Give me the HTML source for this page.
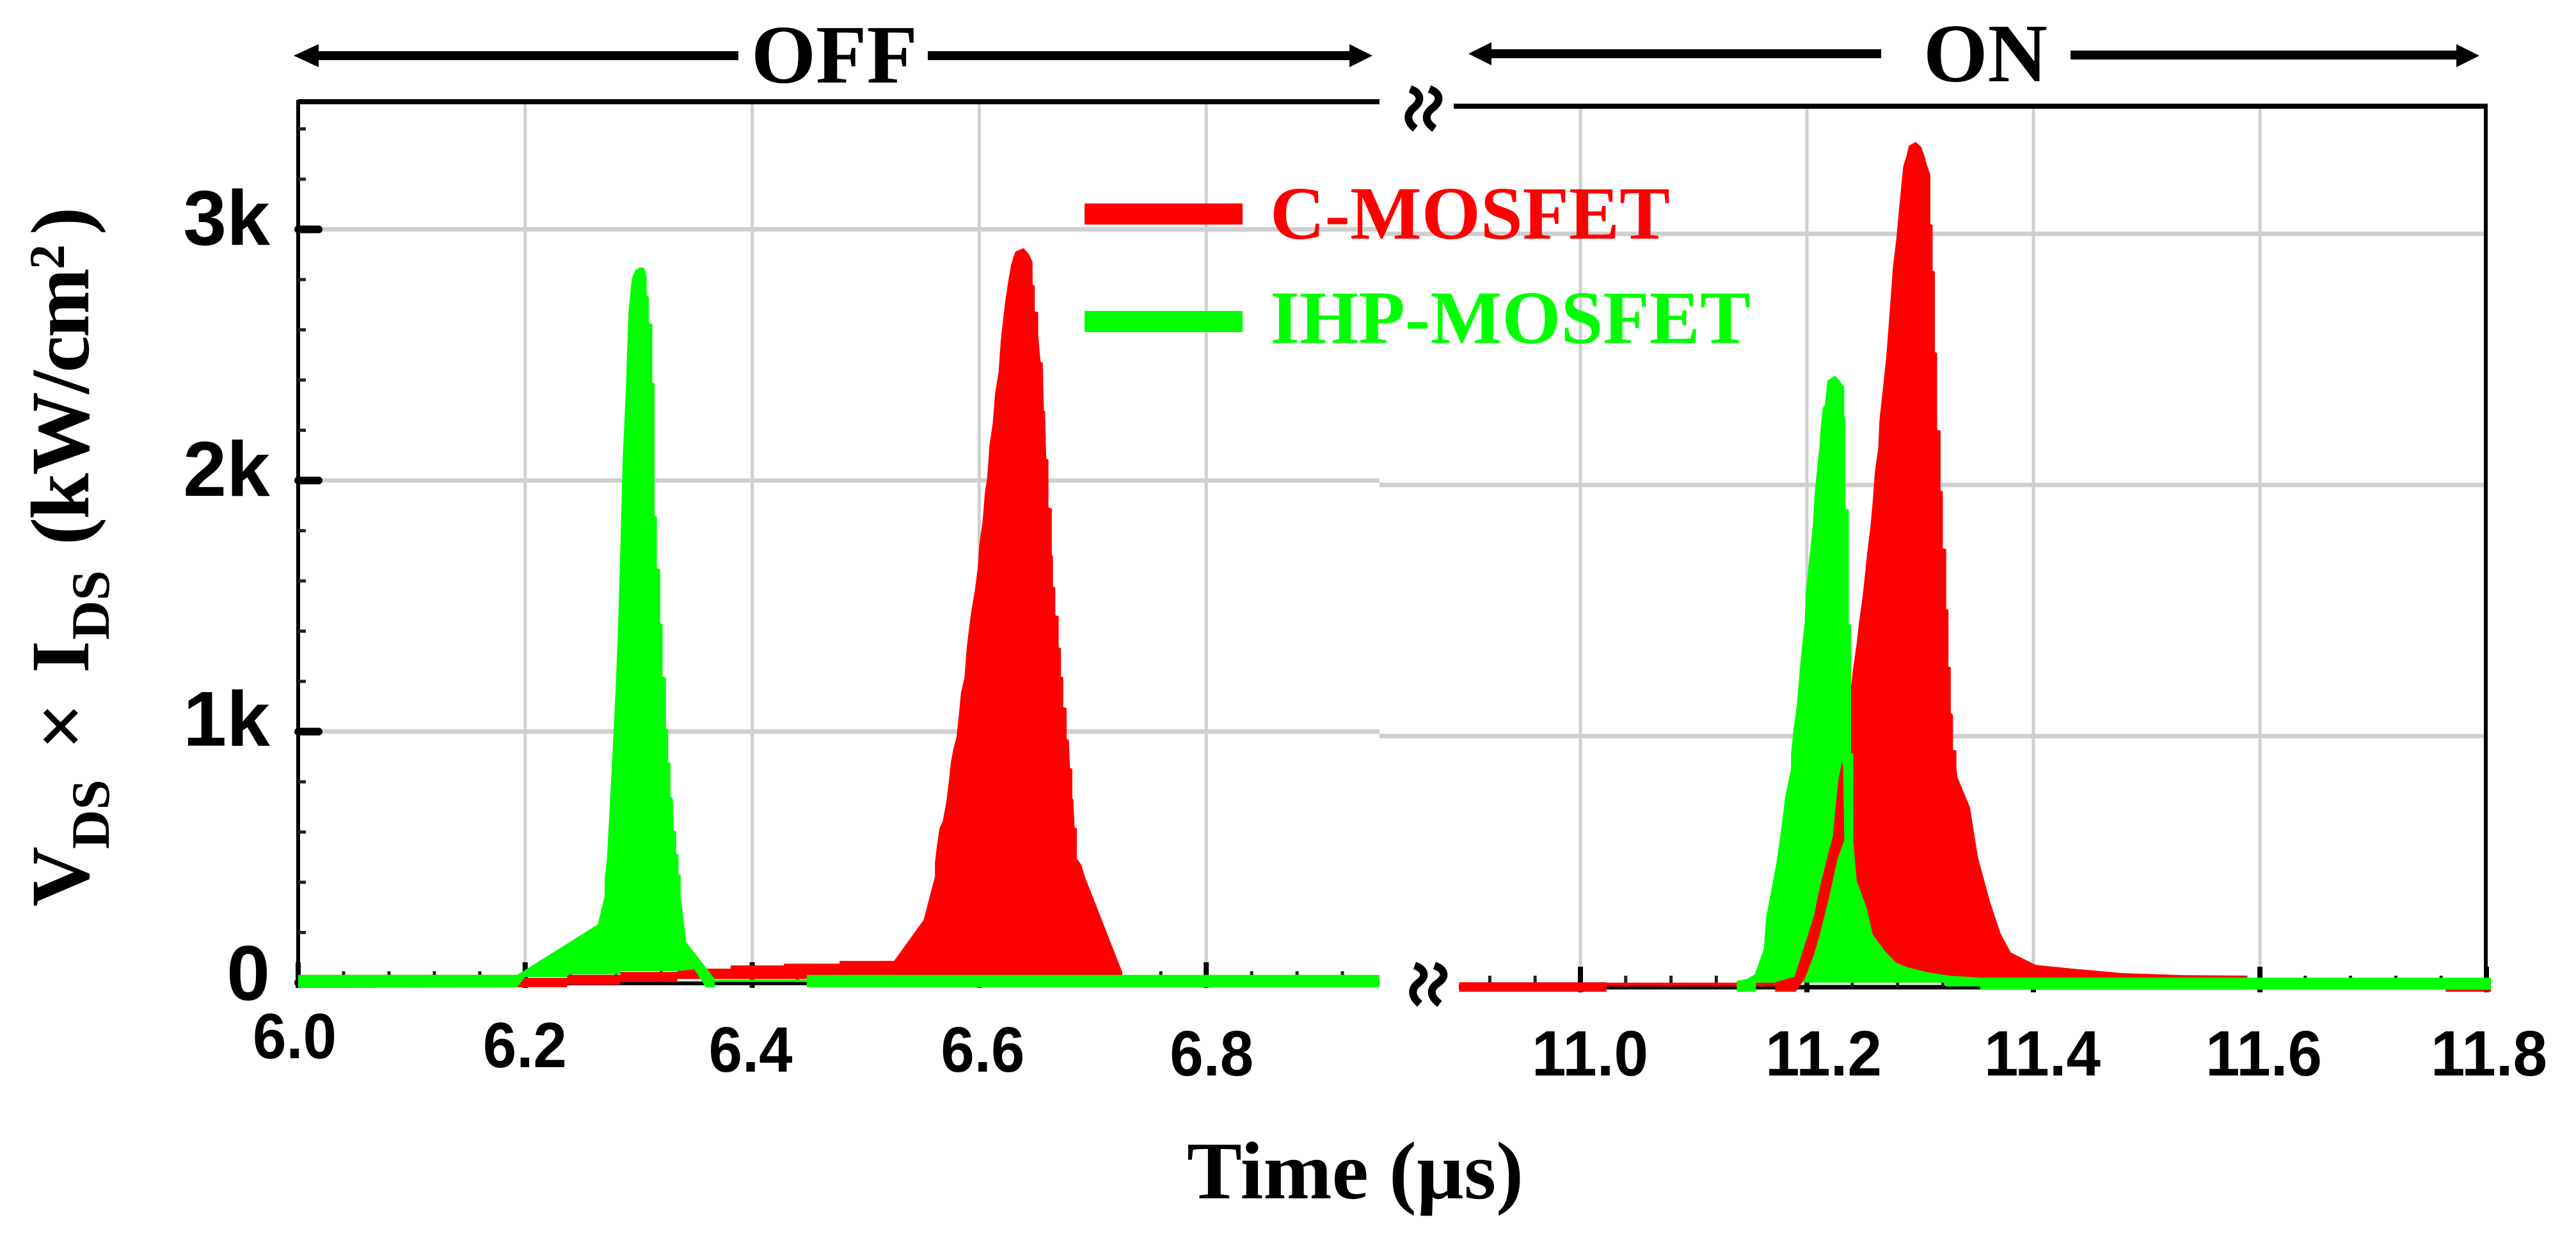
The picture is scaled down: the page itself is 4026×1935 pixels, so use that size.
<!DOCTYPE html>
<html lang="en">
<head>
<meta charset="utf-8">
<title>VDS x IDS versus time</title>
<style>
html,body{margin:0;padding:0;background:#fff;width:4026px;height:1935px;overflow:hidden}
svg{display:block}
.serif{font-family:"Liberation Serif","DejaVu Serif",serif;font-weight:bold}
.sans{font-family:"Liberation Sans","DejaVu Sans",sans-serif;font-weight:bold}
</style>
</head>
<body>
<svg id="chart" xmlns="http://www.w3.org/2000/svg" width="4026" height="1935" viewBox="0 0 4026 1935">
  <rect x="0" y="0" width="4026" height="1935" fill="#fff"/>
  <g id="grid"></g>
  <g id="axes"></g>
  <g id="series"></g>

  <g fill="#000">
    <rect x="490" y="80" width="664" height="14"/>
    <polygon points="459,87 498,69 498,105"/>
    <rect x="1450" y="80" width="665" height="14"/>
    <polygon points="2145,87 2109,69 2109,105"/>
  </g>
  <text class="serif" x="1174" y="129" font-size="130" textLength="260" lengthAdjust="spacingAndGlyphs">OFF</text>
  <g fill="#000">
    <rect x="2325" y="77" width="615" height="14"/>
    <polygon points="2295,84 2331,66 2331,102"/>
    <rect x="3236" y="79" width="610" height="14"/>
    <polygon points="3875,87 3839,69 3839,105"/>
  </g>
  <text class="serif" x="3006" y="127" font-size="130" textLength="194" lengthAdjust="spacingAndGlyphs">ON</text>

  <g fill="none" stroke="#000" stroke-width="12">
    <path d="M2204,139 C2222,146 2222,158 2210,168 C2198,178 2198,190 2212,201"/>
    <path d="M2234,139 C2252,146 2252,158 2240,168 C2226,178 2226,190 2242,201"/>
  </g>
  <g fill="none" stroke="#000" stroke-width="12">
    <path d="M2211,1509 C2229,1516 2229,1527 2217,1536 C2205,1545 2205,1557 2219,1569"/>
    <path d="M2242,1509 C2260,1516 2260,1527 2248,1536 C2234,1545 2234,1557 2250,1569"/>
  </g>

  <rect x="1695" y="318" width="247" height="33" fill="#ff0000"/>
  <text class="serif" x="1985" y="373" font-size="118" fill="#ff0000" textLength="625" lengthAdjust="spacingAndGlyphs">C-MOSFET</text>
  <rect x="1695" y="486" width="247" height="33" fill="#00ff00"/>
  <text class="serif" x="1985" y="536" font-size="118" fill="#00ff00" textLength="751" lengthAdjust="spacingAndGlyphs">IHP-MOSFET</text>

  <text class="serif" transform="translate(138,0) rotate(-90)" font-size="130"><tspan x="-1417" y="0">V</tspan><tspan x="-1327" y="32" font-size="85">DS</tspan><tspan x="-1172" y="0">×</tspan><tspan x="-1052" y="0">I</tspan><tspan x="-1000" y="32" font-size="85">DS</tspan><tspan x="-852" y="0" letter-spacing="-3">(kW/cm</tspan><tspan x="-421" y="-38" font-size="78">2</tspan><tspan x="-367" y="0">)</tspan></text>
  <text class="serif" x="1855" y="1873" font-size="128" textLength="526" lengthAdjust="spacingAndGlyphs">Time (µs)</text>

  <g id="labels"></g>
</svg>
<script>
// ---- chart data (time in µs, power in W/cm²) ----
const yMajorTicks = [0, 1000, 2000, 3000];
const yMajorLabels = ["0", "1k", "2k", "3k"];
const yMinorTicks = [200, 400, 600, 800, 1200, 1400, 1600, 1800, 2200, 2400, 2600, 2800, 3200, 3400];
const gridPower = [1000, 2000, 3000];

const offMajorTicks = [6.0, 6.2, 6.4, 6.6, 6.8];
const offTickLabels = ["6.0", "6.2", "6.4", "6.6", "6.8"];
const offMinorTicks = [6.04, 6.08, 6.12, 6.16, 6.24, 6.28, 6.32, 6.36, 6.44, 6.48, 6.52, 6.56, 6.64, 6.68, 6.72, 6.76, 6.84, 6.88, 6.92];
const onMajorTicks = [11.0, 11.2, 11.4, 11.6, 11.8];
const onTickLabels = ["11.0", "11.2", "11.4", "11.6", "11.8"];
const onMinorTicks = [10.92, 10.96, 11.04, 11.08, 11.12, 11.16, 11.24, 11.28, 11.32, 11.36, 11.44, 11.48, 11.52, 11.56, 11.64, 11.68, 11.72, 11.76];

// C-MOSFET, turn-off waveform envelope
const redOffTime = [6.0,6.197,6.197,6.237,6.237,6.284,6.284,6.334,6.334,6.381,6.381,6.428,6.428,6.477,6.477,6.525,6.551,6.561,6.561,6.563,6.565,6.568,6.571,6.573,6.575,6.577,6.580,6.582,6.584,6.587,6.589,6.591,6.593,6.596,6.599,6.600,6.603,6.605,6.607,6.609,6.612,6.614,6.617,6.619,6.621,6.623,6.626,6.628,6.630,6.632,6.639,6.644,6.647,6.647,6.649,6.649,6.652,6.652,6.654,6.656,6.657,6.658,6.659,6.661,6.661,6.664,6.664,6.665,6.665,6.667,6.667,6.670,6.670,6.672,6.672,6.674,6.674,6.677,6.677,6.679,6.680,6.682,6.682,6.683,6.684,6.686,6.686,6.690,6.693,6.726,6.726,6.334,6.334,6.284,6.284,6.237,6.237,6.197,6.0];
const redOffPower = [31,31,20,20,31,31,43,43,56,56,69,69,76,76,87,87,250,423,479,555,614,645,721,792,877,927,978,1065,1157,1213,1335,1409,1480,1557,1664,1743,1837,1952,2010,2138,2232,2347,2431,2558,2640,2716,2805,2856,2889,2912,2925,2900,2869,2780,2775,2673,2670,2581,2474,2469,2278,2275,2087,2084,1893,1888,1705,1697,1577,1575,1463,1460,1335,1333,1220,1218,1098,1093,971,966,856,851,734,729,619,614,494,469,423,43,15,15,3,3,-8,-8,-18,-18,-20];

// IHP-MOSFET, turn-off waveform envelope
const greenOffTime = [6.0,6.193,6.264,6.270,6.270,6.272,6.275,6.277,6.280,6.282,6.284,6.286,6.289,6.291,6.294,6.297,6.301,6.305,6.307,6.307,6.309,6.309,6.312,6.312,6.314,6.314,6.316,6.316,6.319,6.319,6.321,6.321,6.324,6.324,6.326,6.326,6.328,6.328,6.330,6.331,6.333,6.333,6.335,6.335,6.337,6.337,6.342,6.367,6.367,6.359,6.349,6.334,6.284,6.284,6.237,6.237,6.2,6.193,6.0];
const greenOffPower = [31,31,232,347,415,489,749,920,1200,1440,1758,2100,2398,2673,2805,2838,2849,2846,2813,2737,2731,2627,2624,2390,2387,1860,1855,1651,1646,1432,1427,1220,1215,1012,1009,879,874,741,736,606,604,515,510,433,428,347,161,15,-18,-18,53,46,46,33,33,23,23,-18,-18];
const greenOffTailTime = [6.367,6.448,6.448,6.9525,6.9525,6.448,6.448,6.367];
const greenOffTailPower = [13,13,31,31,-18,-18,3,3];

// C-MOSFET, turn-on waveform
const redOnBaseTime = [10.893,11.023,11.023,11.172,11.172,11.023,11.023,10.893];
const redOnBasePower = [20,20,18,18,3,3,-18,-18];
const redOnMainTime = [11.239,11.239,11.241,11.244,11.246,11.249,11.251,11.253,11.256,11.258,11.260,11.263,11.264,11.267,11.270,11.272,11.274,11.276,11.279,11.281,11.283,11.285,11.288,11.290,11.296,11.301,11.304,11.306,11.309,11.309,11.311,11.311,11.313,11.313,11.315,11.315,11.318,11.318,11.320,11.320,11.323,11.323,11.325,11.325,11.327,11.327,11.329,11.329,11.332,11.332,11.333,11.344,11.351,11.362,11.371,11.380,11.402,11.435,11.479,11.534,11.589,11.589];
const redOnMainPower = [18,1200,1277,1371,1452,1549,1631,1722,1829,1931,2051,2148,2255,2382,2507,2624,2747,2869,2981,3083,3175,3269,3312,3351,3366,3346,3307,3274,3236,3040,3035,2854,2849,2530,2525,2219,2217,1977,1975,1748,1745,1506,1503,1277,1274,1091,1085,945,943,874,836,716,517,336,214,138,89,74,56,48,46,18];
const redOnRiseTime = [11.172,11.172,11.189,11.198,11.206,11.211,11.219,11.223,11.225,11.228,11.231,11.232,11.233,11.227,11.219,11.211,11.206,11.198,11.190];
const redOnRisePower = [-18,20,41,168,280,390,535,601,703,831,899,874,586,510,347,204,127,33,-18];
const redOnEndTime = [11.764,11.804,11.804,11.764];
const redOnEndPower = [3,3,-18,-18];

// IHP-MOSFET, turn-on waveform
const greenOnTime = [11.138,11.138,11.147,11.154,11.162,11.164,11.169,11.173,11.177,11.181,11.185,11.186,11.186,11.188,11.191,11.193,11.195,11.198,11.199,11.202,11.205,11.207,11.210,11.211,11.212,11.214,11.216,11.218,11.225,11.230,11.233,11.233,11.234,11.234,11.237,11.237,11.239,11.239,11.241,11.241,11.244,11.253,11.258,11.269,11.279,11.289,11.307,11.325,11.355,11.804,11.804,11.353,11.353,11.322,11.322,11.155,11.155,11.138];
const greenOnPower = [-18,25,33,51,153,280,397,492,619,764,848,874,930,1022,1121,1226,1328,1452,1567,1702,1829,1975,2110,2148,2217,2308,2319,2415,2436,2408,2390,2268,2263,1906,1901,1447,1442,933,930,576,423,313,211,143,97,79,59,46,38,38,-10,-10,3,3,18,18,-18,-18];

// ---- axis functions ----
function xOff(t){ return 466 + (t - 6.0) * 1774; }
function yOff(v){ return 1536 - v * 0.3925; }
function xOn(t){ return 2470 + (t - 11.0) * 1770; }
function yOn(v){ return 1543 - v * 0.3925; }

const SVGNS = "http://www.w3.org/2000/svg";
function mk(parent, tag, attrs){
  const el = document.createElementNS(SVGNS, tag);
  for (const k in attrs) el.setAttribute(k, attrs[k]);
  parent.appendChild(el);
  return el;
}
function outline(times, powers, xf, yf){
  return times.map(function(t, i){ return xf(t).toFixed(1) + "," + yf(powers[i]).toFixed(1); }).join(" ");
}
const gGrid = document.getElementById("grid");
const gAxes = document.getElementById("axes");
const gSeries = document.getElementById("series");
const gLabels = document.getElementById("labels");

// grid
gridPower.forEach(function(v){
  const a = mk(gGrid, "line", {x1:466, x2:2156, y1:yOff(v), y2:yOff(v), stroke:"#cfcfcf", "stroke-width":7});
  
  
  const b = mk(gGrid, "line", {x1:2156, x2:3885, y1:yOn(v), y2:yOn(v), stroke:"#cfcfcf", "stroke-width":7});
  
  
});
offMajorTicks.slice(1).forEach(function(t){
  const a = mk(gGrid, "line", {x1:xOff(t), x2:xOff(t), y1:159, y2:yOff(0), stroke:"#cfcfcf", "stroke-width":5});
  
  
});
onMajorTicks.slice(0, 4).forEach(function(t){
  const a = mk(gGrid, "line", {x1:xOn(t), x2:xOn(t), y1:166, y2:yOn(0), stroke:"#cfcfcf", "stroke-width":5});
  
  
});

// axis frame
function axisLine(name, x1, y1, x2, y2, w){
  const l = mk(gAxes, "line", {x1:x1, y1:y1, x2:x2, y2:y2, stroke:"#000", "stroke-width":w});
  
  
}
axisLine("left-axis-line", 466, 156, 466, 1540, 6);
axisLine("top-axis-line-off", 466, 159, 2156, 159, 8);
axisLine("top-axis-line-on", 2272, 166, 3888, 166, 8);
axisLine("right-axis-line", 3885, 163, 3885, 1547, 6);
axisLine("bottom-axis-line-off", 466, 1537, 2156, 1537, 6);
axisLine("bottom-axis-line-on", 2280, 1543, 3885, 1543, 7);

// y ticks
yMajorTicks.forEach(function(v, i){
  const tick = mk(gAxes, "line", {x1:466, x2:498, y1:yOff(v), y2:yOff(v), stroke:"#000", "stroke-width":12, "stroke-linecap":"round"});
  
  
  const lab = mk(gLabels, "text", {x:422, y:yOff(v) + (v === 0 ? 27 : (v === 1000 ? 22 : 24)), "text-anchor":"end", "font-size":122, "class":"sans"});
  lab.textContent = yMajorLabels[i];
  
  
});
yMinorTicks.forEach(function(v){
  const tick = mk(gAxes, "line", {x1:466, x2:478, y1:yOff(v), y2:yOff(v), stroke:"#222", "stroke-width":5});
  
  
});

// x ticks
offMajorTicks.forEach(function(t, i){
  const tick = mk(gAxes, "line", {x1:xOff(t), x2:xOff(t), y1:yOff(0) - 32, y2:yOff(0) + 8, stroke:"#000", "stroke-width":8});
  
  
  const base = [1654, 1668, 1675, 1675, 1681][i];
  const lab = mk(gLabels, "text", {x:xOff(t) - 71 + (i === 1 ? 5 : 0) + (i === 2 ? 3 : 0) + (i === 3 ? 11 : 0) + (i === 4 ? 14 : 0), y:base, "font-size":100, "class":"sans", textLength:131, lengthAdjust:"spacingAndGlyphs"});
  lab.textContent = offTickLabels[i];
  
  
});
offMinorTicks.forEach(function(t){
  const tick = mk(gAxes, "line", {x1:xOff(t), x2:xOff(t), y1:yOff(0) - 18, y2:yOff(0), stroke:"#222", "stroke-width":5});
  
  
});
onMajorTicks.forEach(function(t, i){
  const tick = mk(gAxes, "line", {x1:xOn(t), x2:xOn(t), y1:yOn(0) - 32, y2:yOn(0) + 8, stroke:"#000", "stroke-width":8});
  
  
  const lab = mk(gLabels, "text", {x:xOn(t) + [-76, -65, -77, -85, -87][i], y:1681, "font-size":100, "class":"sans", textLength:182, lengthAdjust:"spacingAndGlyphs"});
  lab.textContent = onTickLabels[i];
  
  
});
onMinorTicks.forEach(function(t){
  const tick = mk(gAxes, "line", {x1:xOn(t), x2:xOn(t), y1:yOn(0) - 18, y2:yOn(0), stroke:"#222", "stroke-width":5});
  
  
});

// series
const redOff = mk(gSeries, "polygon", {points:outline(redOffTime, redOffPower, xOff, yOff), fill:"#ff0000"});


const greenOff = mk(gSeries, "polygon", {points:outline(greenOffTime, greenOffPower, xOff, yOff), fill:"#00ff00"});


const greenOffTail = mk(gSeries, "polygon", {points:outline(greenOffTailTime, greenOffTailPower, xOff, yOff), fill:"#00ff00"});



const redBase = mk(gSeries, "polygon", {points:outline(redOnBaseTime, redOnBasePower, xOn, yOn), fill:"#ff0000"});


const redEnd = mk(gSeries, "polygon", {points:outline(redOnEndTime, redOnEndPower, xOn, yOn), fill:"#ff0000"});


const redMain = mk(gSeries, "polygon", {points:outline(redOnMainTime, redOnMainPower, xOn, yOn), fill:"#ff0000"});


const greenOn = mk(gSeries, "polygon", {points:outline(greenOnTime, greenOnPower, xOn, yOn), fill:"#00ff00"});


const redRise = mk(gSeries, "polygon", {points:outline(redOnRiseTime, redOnRisePower, xOn, yOn), fill:"#ff0000"});


</script>
</body>
</html>
